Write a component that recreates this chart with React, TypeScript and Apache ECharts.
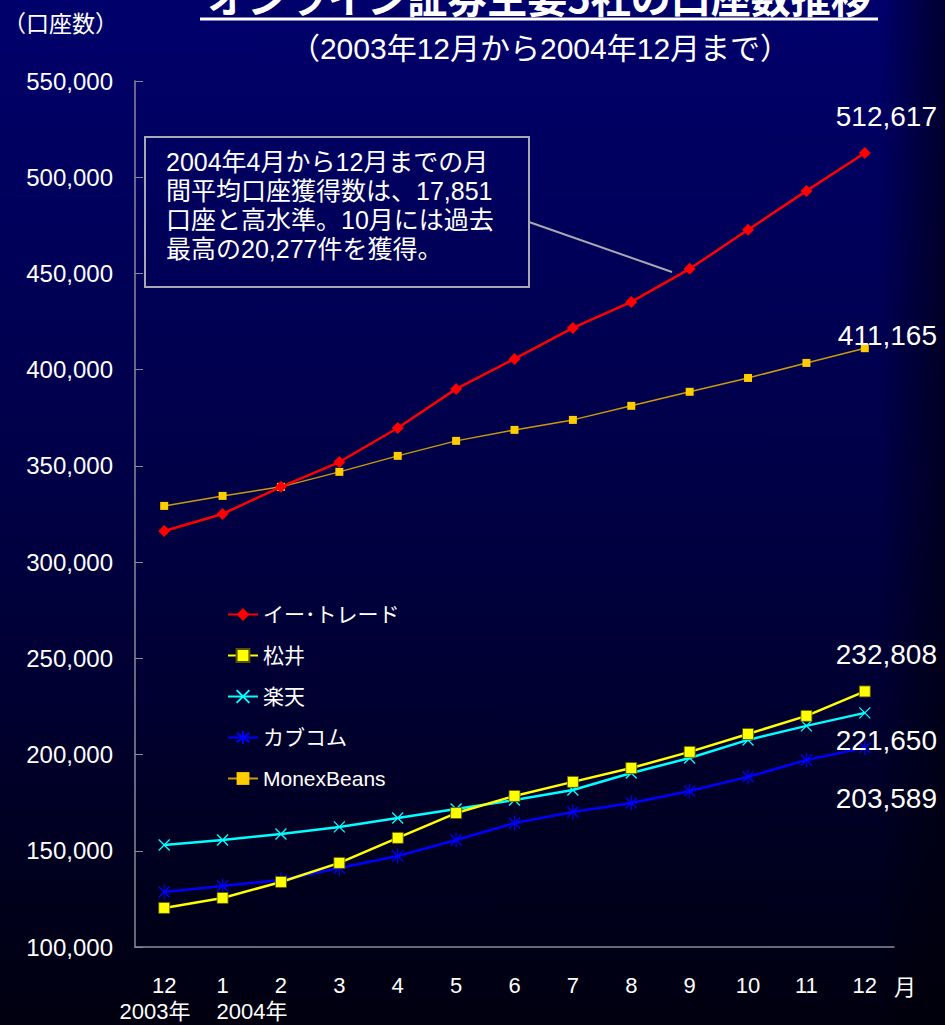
import React, { useEffect, useRef } from "react";
import * as echarts from "echarts";

const months = ["12", "1", "2", "3", "4", "5", "6", "7", "8", "9", "10", "11", "12"];
const yearLabels = ["2003年", "2004年"];
const seriesNames = ["イー･トレード", "松井", "楽天", "カブコム", "MonexBeans"];
const etrade = [316200, 325000, 339100, 352000, 369700, 390000, 405600, 421700, 435200, 452400, 472700, 492900, 512617];
const matsui = [120300, 125500, 133800, 143700, 156700, 169600, 178500, 185800, 193000, 201400, 210700, 220100, 232808];
const rakuten = [153000, 155600, 158700, 162400, 167000, 171700, 176400, 181600, 190400, 198200, 207600, 214900, 221650];
const kabucom = [128600, 131700, 134800, 141100, 147300, 155600, 164400, 170200, 174800, 181100, 188400, 197200, 203589];
const monex = [329200, 334400, 339100, 346900, 355200, 363000, 368700, 373900, 381200, 388500, 395700, 403500, 411165];
const yMin = 100000;
const yMax = 550000;
const yStep = 50000;

const FONT = '"Liberation Sans", Arial, "Noto Sans CJK JP", sans-serif';
const CJK = '"Noto Sans CJK JP", "Liberation Sans", sans-serif';
const CROSS = "path://M0,0L10,10M10,0L0,10";
const STAR = "path://M0,2L10,12M10,2L0,12M5,0L5,14";

const fmt = (v: number) => v.toLocaleString("en-US");

export default function App() {
  const ref = useRef<HTMLDivElement>(null);
  useEffect(() => {
    if (!ref.current) return;
    const chart = echarts.init(ref.current, null, { renderer: "svg" });
    const last = (a: number[]) => fmt(a[a.length - 1]);
    const valueLabel = (text: string, y: number) => ({
      type: "text",
      x: 937,
      y,
      style: { text, fill: "#fff", font: `28px ${FONT}`, align: "right", verticalAlign: "middle" },
      z: 10,
    });
    chart.setOption({
      animation: false,
      backgroundColor: {
        type: "linear", x: 0, y: 0, x2: 0, y2: 1,
        colorStops: [
          { offset: 0, color: "#00006c" },
          { offset: 0.5, color: "#000044" },
          { offset: 1, color: "#00000f" },
        ],
      },
      grid: { left: 135, right: 51, top: 81, bottom: 78 },
      legend: {
        orient: "vertical",
        left: 227,
        top: 604,
        padding: 0,
        itemWidth: 30,
        itemHeight: 16,
        itemGap: 20,
        data: seriesNames,
        textStyle: { color: "#fff", fontSize: 21, fontFamily: FONT, lineHeight: 20 },
      },
      xAxis: {
        type: "category",
        data: months,
        boundaryGap: true,
        axisLine: { lineStyle: { color: "#8a8a9a", width: 1.5 } },
        axisTick: { inside: true, length: 9, lineStyle: { color: "#8a8a9a" } },
        axisLabel: { color: "#fff", fontSize: 22, fontFamily: FONT, margin: 27 },
        splitLine: { show: false },
      },
      yAxis: {
        type: "value",
        min: yMin,
        max: yMax,
        interval: yStep,
        axisLine: { show: true, lineStyle: { color: "#8a8a9a", width: 1.5 } },
        axisTick: { show: true, inside: true, length: 8, lineStyle: { color: "#8a8a9a" } },
        axisLabel: { color: "#fff", fontSize: 24, fontFamily: FONT, margin: 22, formatter: (v: number) => fmt(v) },
        splitLine: { show: false },
      },
      series: [
        {
          name: seriesNames[0], type: "line", data: etrade,
          symbol: "diamond", symbolSize: 12,
          lineStyle: { color: "#ff0000", width: 2.5 },
          itemStyle: { color: "#ff0000" },
          z: 6,
        },
        {
          name: seriesNames[1], type: "line", data: matsui,
          symbol: "rect", symbolSize: 11,
          lineStyle: { color: "#ffff00", width: 2.5 },
          itemStyle: { color: "#ffff00", borderColor: "#555500", borderWidth: 0.8 },
          z: 5,
        },
        {
          name: seriesNames[2], type: "line", data: rakuten,
          symbol: CROSS, symbolSize: 11,
          lineStyle: { color: "#00ffff", width: 2.5 },
          itemStyle: { color: "#00ffff", borderColor: "#00ffff", borderWidth: 1.3 },
          z: 4,
        },
        {
          name: seriesNames[3], type: "line", data: kabucom,
          symbol: STAR, symbolSize: [11, 15],
          lineStyle: { color: "#0000ff", width: 2.5 },
          itemStyle: { color: "#0000ff", borderColor: "#0000ff", borderWidth: 1.3 },
          z: 3,
        },
        {
          name: seriesNames[4], type: "line", data: monex,
          symbol: "rect", symbolSize: 8,
          lineStyle: { color: "#c89a10", width: 1.5 },
          itemStyle: { color: "#ffcc00" },
          z: 2,
        },
      ],
      graphic: [
        {
          type: "rect", shape: { x: 880, y: 0, width: 65, height: 1025 }, z: -1, silent: true,
          style: {
            fill: {
              type: "linear", x: 0, y: 0, x2: 1, y2: 0,
              colorStops: [
                { offset: 0, color: "rgba(0,0,0,0)" },
                { offset: 1, color: "rgba(0,0,10,0.6)" },
              ],
            },
          },
        },
        {
          type: "text", x: 539, y: -4, z: 10,
          style: { text: "オンライン証券主要5社の口座数推移", fill: "#fff", font: `bold 40px ${CJK}`, align: "center", verticalAlign: "middle" },
        },
        { type: "line", shape: { x1: 200, y1: 19, x2: 878, y2: 19 }, style: { stroke: "#fff", lineWidth: 3 }, z: 10 },
        {
          type: "text", x: 540, y: 48, z: 10,
          style: { text: "（2003年12月から2004年12月まで）", fill: "#fff", font: `30px ${FONT}`, align: "center", verticalAlign: "middle" },
        },
        {
          type: "text", x: 3, y: 22, z: 10,
          style: { text: "（口座数）", fill: "#fff", font: `23px ${CJK}`, align: "left", verticalAlign: "middle" },
        },
        {
          type: "text", x: 905, y: 985, z: 10,
          style: { text: "月", fill: "#fff", font: `22px ${CJK}`, align: "center", verticalAlign: "middle" },
        },
        {
          type: "text", x: 155, y: 1011, z: 10,
          style: { text: yearLabels[0], fill: "#fff", font: `22px ${FONT}`, align: "center", verticalAlign: "middle" },
        },
        {
          type: "text", x: 252, y: 1011, z: 10,
          style: { text: yearLabels[1], fill: "#fff", font: `22px ${FONT}`, align: "center", verticalAlign: "middle" },
        },
        {
          type: "rect", shape: { x: 145, y: 137, width: 384, height: 150 }, z: 10,
          style: { fill: "none", stroke: "#a8a8b0", lineWidth: 2 },
        },
        { type: "line", shape: { x1: 529, y1: 222, x2: 672, y2: 272 }, style: { stroke: "#a8a8b0", lineWidth: 2 }, z: 10 },
        {
          type: "text", x: 166, y: 147, z: 10,
          style: {
            text: "2004年4月から12月までの月\n間平均口座獲得数は、17,851\n口座と高水準。10月には過去\n最高の20,277件を獲得。",
            fill: "#fff", font: `25px ${FONT}`, lineHeight: 29, align: "left", verticalAlign: "top",
          },
        },
        valueLabel(last(etrade), 116),
        valueLabel(last(monex), 335),
        valueLabel(last(matsui), 654),
        valueLabel(last(rakuten), 740),
        valueLabel(last(kabucom), 798),
      ],
    });
    return () => chart.dispose();
  }, []);
  return <div ref={ref} style={{ position: "absolute", left: 0, top: 0, width: 945, height: 1025 }} />;
}
